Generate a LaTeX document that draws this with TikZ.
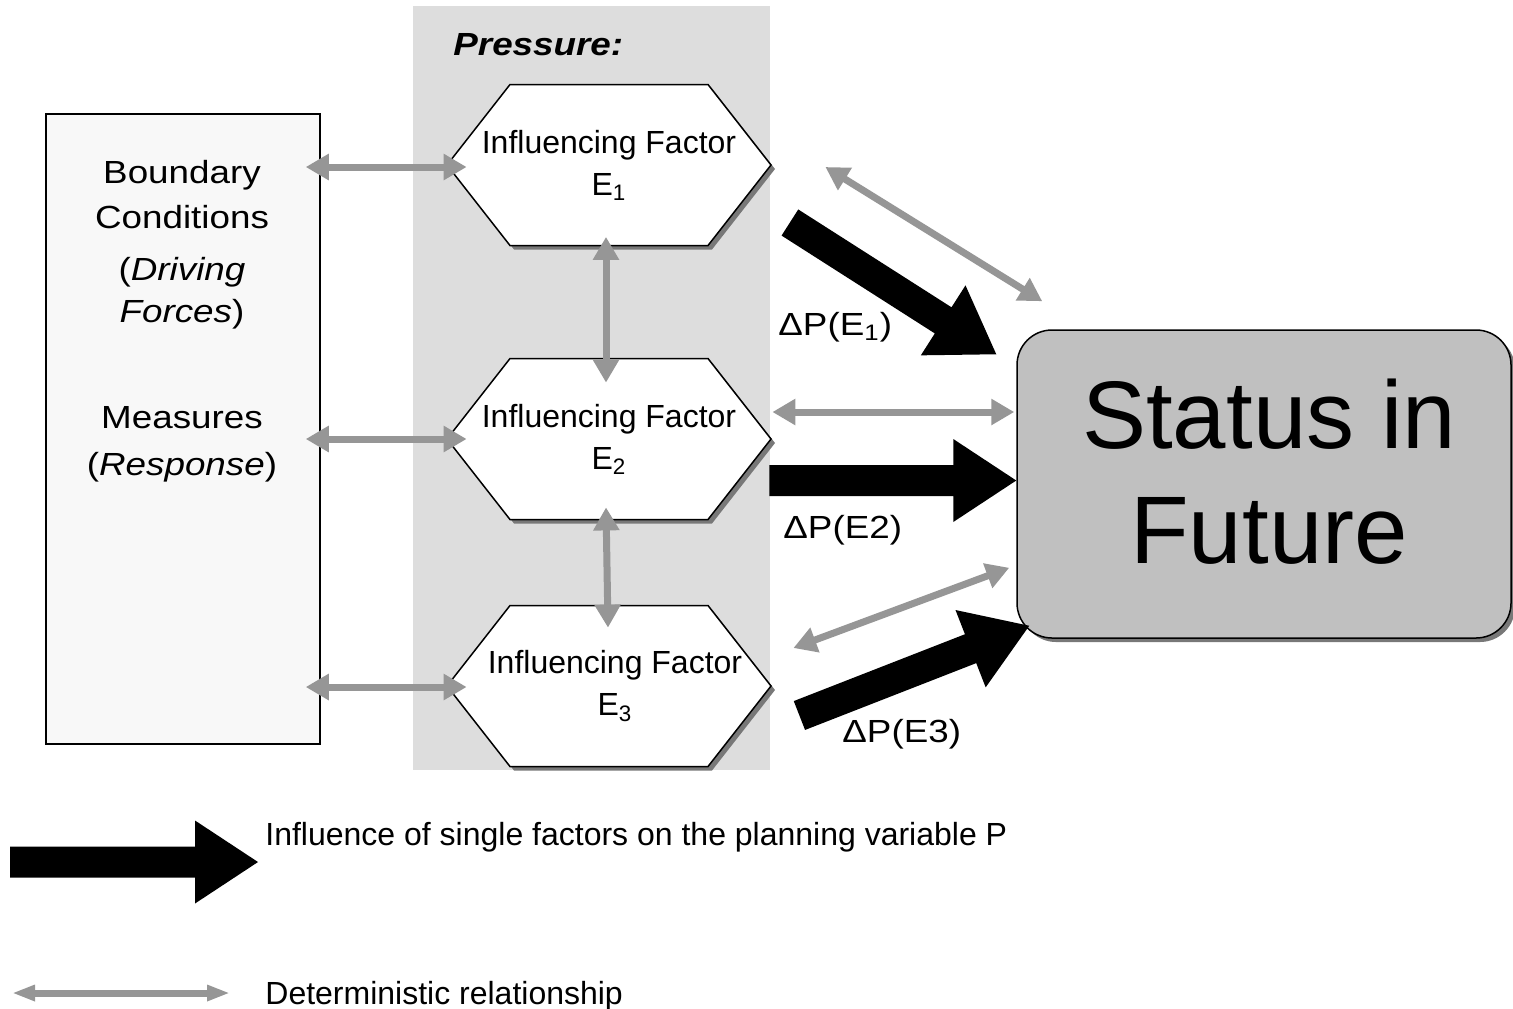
\documentclass[tikz,border=0pt]{standalone}
\usepackage{fontspec}
\setmainfont{Liberation Sans}
\usepackage{graphicx}
\usetikzlibrary{calc,arrows.meta,shadows}
\definecolor{panelgray}{RGB}{221,221,221}
\definecolor{arrowgray}{RGB}{150,150,150}
\definecolor{boxfill}{RGB}{248,248,248}
\definecolor{statusfill}{RGB}{192,192,192}
\definecolor{shadowgray}{RGB}{120,120,120}
\newcommand\widetext[1]{\scalebox{1.15}[1]{#1}}
\newcommand\blockarrow[2]{%
  \coordinate (bab) at ($(#2)!31.5pt!(#1)$);
  \fill[black] ($(#1)!7.75pt!90:(#2)$) -- ($(bab)!7.75pt!90:(#2)$) -- ($(bab)!20.75pt!90:(#2)$) -- (#2) -- ($(bab)!20.75pt!-90:(#2)$) -- ($(bab)!7.75pt!-90:(#2)$) -- ($(#1)!7.75pt!-90:(#2)$) -- cycle;}
\newcommand\hexagonat[1]{%
  \draw[hexline, shift={(#1)}] (-162,0) -- (-99,-80.5) -- (99,-80.5) -- (162,0) -- (99,80.5) -- (-99,80.5) -- cycle;}
\begin{document}
\begin{tikzpicture}[x=0.5pt,y=-0.5pt,
  hexline/.style={draw=black, line width=0.75pt, fill=white, line join=miter,
    drop shadow={shadow xshift=2pt, shadow yshift=-2pt, fill=shadowgray, opacity=1}},
  hexbox/.style={inner sep=0pt, minimum width=162pt, minimum height=80.5pt, align=center,
    font=\fontsize{16pt}{21pt}\selectfont},
  garrow/.style={draw=arrowgray, line width=3.5pt,
    {Triangle[length=11.5pt,width=12.5pt]}-{Triangle[length=11.5pt,width=12.5pt]}},
  garrowsmall/.style={draw=arrowgray, line width=3.5pt,
    {Triangle[length=11.5pt,width=7.5pt]}-{Triangle[length=11.5pt,width=7.5pt]}},
  lbtext/.style={anchor=base, inner sep=0pt, font=\fontsize{16pt}{20pt}\selectfont},
  lbl/.style={anchor=base west, inner sep=0pt, font=\fontsize{16pt}{20pt}\selectfont},
]
\useasboundingbox (0,0) rectangle (1513,1008);

% background panel
\node[fill=panelgray, inner sep=0pt, minimum width=178.5pt, minimum height=382pt] (pnl) at (591.5,388) {};
\node[lbl, font=\fontsize{16pt}{20pt}\selectfont\bfseries\itshape] (pr) at (453,55) {\widetext{Pressure:}};

% left box
\node[draw=black, line width=0.75pt, fill=boxfill, inner sep=0pt, minimum width=137pt, minimum height=315pt] (lb) at (183,429) {};
\node[lbtext] (t1) at (182,183) {\widetext{Boundary}};
\node[lbtext] (t2) at (182,228) {\widetext{Conditions}};
\node[lbtext] (t3) at (182,280) {\widetext{(\textit{Driving}}};
\node[lbtext] (t4) at (182,322) {\widetext{\textit{Forces})}};
\node[lbtext] (t5) at (182,428) {\widetext{Measures}};
\node[lbtext] (t6) at (182,475) {\widetext{(\textit{Response})}};

% hexagons
\coordinate (c1) at (609,165);
\coordinate (c2) at (609,439);
\coordinate (c3) at (609,686);
\hexagonat{c1}
\hexagonat{c2}
\hexagonat{c3}
\node[hexbox] (e1) at (c1) {Influencing Factor\\E\textsubscript{1}};
\node[hexbox] (e2) at (c2) {Influencing Factor\\E\textsubscript{2}};
\node[hexbox] (e3) at (c3) {\hspace*{6pt}Influencing Factor\\\hspace*{6pt}E\textsubscript{3}};

% status box
\node[draw=black, line width=0.75pt, fill=statusfill, rounded corners=17.5pt, inner sep=0pt,
  minimum width=247pt, minimum height=154pt,
  drop shadow={shadow xshift=2pt, shadow yshift=-2pt, fill=shadowgray, opacity=1}] (st) at (1264,484) {};
\node[align=center, inner sep=0pt, font=\fontsize{48pt}{57.5pt}\selectfont] (stt) at (1269,471.5) {Status in\\Future};

% gray arrow end points
\coordinate (g1a) at ($(lb.east |- e1.west)+(-15,2)$);
\coordinate (g1b) at ($(e1.west)+(20,2)$);
\coordinate (g2a) at ($(lb.east |- e2.west)+(-15,0)$);
\coordinate (g2b) at ($(e2.west)+(20,0)$);
\coordinate (g3a) at ($(lb.east |- e3.west)+(-15,1)$);
\coordinate (g3b) at ($(e3.west)+(20,1)$);
\coordinate (g4a) at ($(e1.south)+(-3,-9)$);
\coordinate (g4b) at ($(e2.north)+(-3,24.5)$);
\coordinate (g5a) at ($(e2.south)+(-3,-12.5)$);
\coordinate (g5b) at ($(e3.north)+(-1,22.5)$);
\coordinate (g6a) at ($(e1.east)+(54,2)$);
\coordinate (g6b) at ($(st.north west)+(26,-28)$);
\coordinate (g7a) at ($(e2.east)+(1,-27)$);
\coordinate (g7b) at ($(st.west)+(-2,-72)$);
\coordinate (g8a) at ($(e3.east)+(22,-38)$);
\coordinate (g8b) at ($(st.south west)+(-7,-71)$);

\draw[garrow] (g1a) -- (g1b);
\draw[garrow] (g2a) -- (g2b);
\draw[garrow] (g3a) -- (g3b);
\draw[garrow] (g4a) -- (g4b);
\draw[garrow] (g5a) -- (g5b);
\draw[garrow] (g6a) -- (g6b);
\draw[garrow] (g7a) -- (g7b);
\draw[garrow] (g8a) -- (g8b);

% black block arrows
\coordinate (b1s) at ($(e1.east)+(18.5,57.5)$);
\coordinate (b1t) at ($(st.north west)+(-20,25)$);
\coordinate (b2s) at ($(e2.east)+(-2,41.5)$);
\coordinate (b2t) at ($(st.west)+(0,-3.5)$);
\coordinate (b3s) at ($(e3.east)+(28,29.5)$);
\coordinate (b3t) at ($(st.south west)+(13,-13)$);
\blockarrow{b1s}{b1t}
\blockarrow{b2s}{b2t}
\blockarrow{b3s}{b3t}

% delta labels
\node[lbl] (d1) at (778,335) {\widetext{ΔP(E\textsubscript{1})}};
\node[lbl] (d2) at (783,538) {\widetext{ΔP(E2)}};
\node[lbl] (d3) at (842,742) {\widetext{ΔP(E3)}};

% legend
\coordinate (lg1s) at (10,862);
\coordinate (lg1t) at (258,862);
\blockarrow{lg1s}{lg1t}
\node[lbl] (lt1) at (265,845) {Influence of single factors on the planning variable P};
\coordinate (lg2s) at (12,993);
\coordinate (lg2t) at (230,993);
\draw[garrowsmall] (lg2s) -- (lg2t);
\node[lbl] (lt2) at (265,1004) {Deterministic relationship};
\end{tikzpicture}
\end{document}
